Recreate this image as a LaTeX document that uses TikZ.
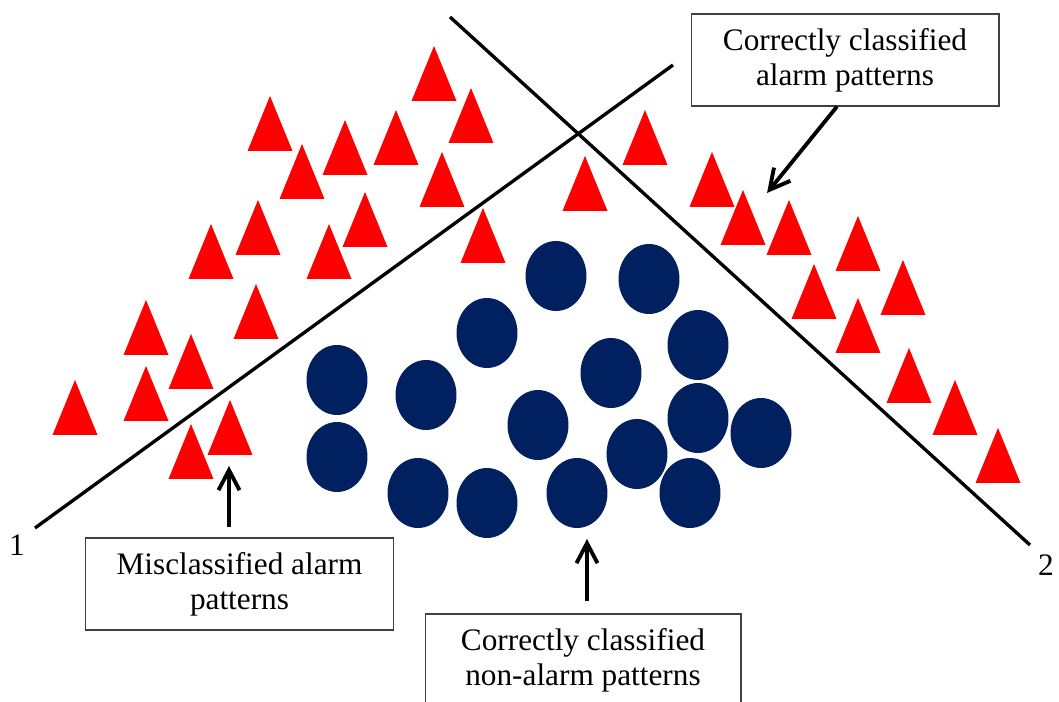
\documentclass[tikz,border=0pt]{standalone}
\usepackage{fontspec}
\setmainfont{Liberation Serif}
\usetikzlibrary{arrows.meta,positioning}
\definecolor{alarmred}{HTML}{FF0000}
\definecolor{quietblue}{HTML}{002060}

\begin{document}
\begin{tikzpicture}[
    x=0.02cm, y=-0.02cm,
    note/.style={draw=black!75, line width=0.6pt, minimum width=6.16cm, minimum height=1.84cm, align=center, inner sep=0pt, font=\fontsize{17.8pt}{19.9pt}\selectfont},
    tag/.style={inner sep=0pt, font=\fontsize{17.8pt}{19.9pt}\selectfont},
    divider/.style={line width=1.9pt},
    arrow/.style={-{Straight Barb[length=0.4cm,width=0.42cm]}, line width=2.2pt},
    alarm/.style={fill=alarmred},
    quiet/.style={fill=quietblue},
]
\useasboundingbox (0,0) rectangle (1059,702);
\clip (0,0) rectangle (1059,702);

\foreach \x/\y in {434/46, 471/88, 270/96, 302/144, 345/120, 396/110, 442/152, 258/200,
    211/224, 365/192, 329/224, 483/208, 256/284, 146/300, 191/334, 75/380, 146/366,
    191/424, 230/400, 645/110, 585/156, 712/152, 743/190, 789/200, 858/216, 814/264,
    903/260, 858/298, 909/348, 955/380, 998/428}
    \fill[alarm] (\x-22.5,\y+55) -- (\x,\y) -- (\x+22.5,\y+55) -- cycle;

\foreach \x/\y in {556/276, 649/279, 487/333, 698/345, 337/380, 426/395, 611/373, 538/425,
    698/418, 761/433, 337/457, 637/454, 418/493, 487/503, 577/493, 690/493}
    \fill[quiet] (\x,\y) ellipse [x radius=0.61cm, y radius=0.70cm];

\coordinate (lineAstart) at (35,528);
\coordinate (lineAend) at (673,65);
\coordinate (lineBstart) at (450,17);
\coordinate (lineBend) at (1030,545);
\draw[divider] (lineAstart) -- (lineAend);
\draw[divider] (lineBstart) -- (lineBend);
\node[tag] (one) at (17,545) {1};
\node[tag] (two) at (1046,565) {2};

\node[note] (alarmok) at (845,60) {Correctly classified\\alarm patterns};
\node[note] (alarmbad) at (239.5,584) {Misclassified alarm\\patterns};
\node[note, minimum width=6.32cm] (quietok) at (583,660) {Correctly classified\\non-alarm patterns};

\coordinate (hitA) at (767,193);
\coordinate (hitB) at (229,466);
\coordinate (hitC) at (587,539);
\draw[arrow] ([xshift=-0.16cm]alarmok.south) -- (hitA);
\draw[arrow, shorten <=0.2cm] (hitB |- alarmbad.north) -- (hitB);
\draw[arrow, shorten <=0.24cm] (hitC |- quietok.north) -- (hitC);
\end{tikzpicture}
\end{document}
